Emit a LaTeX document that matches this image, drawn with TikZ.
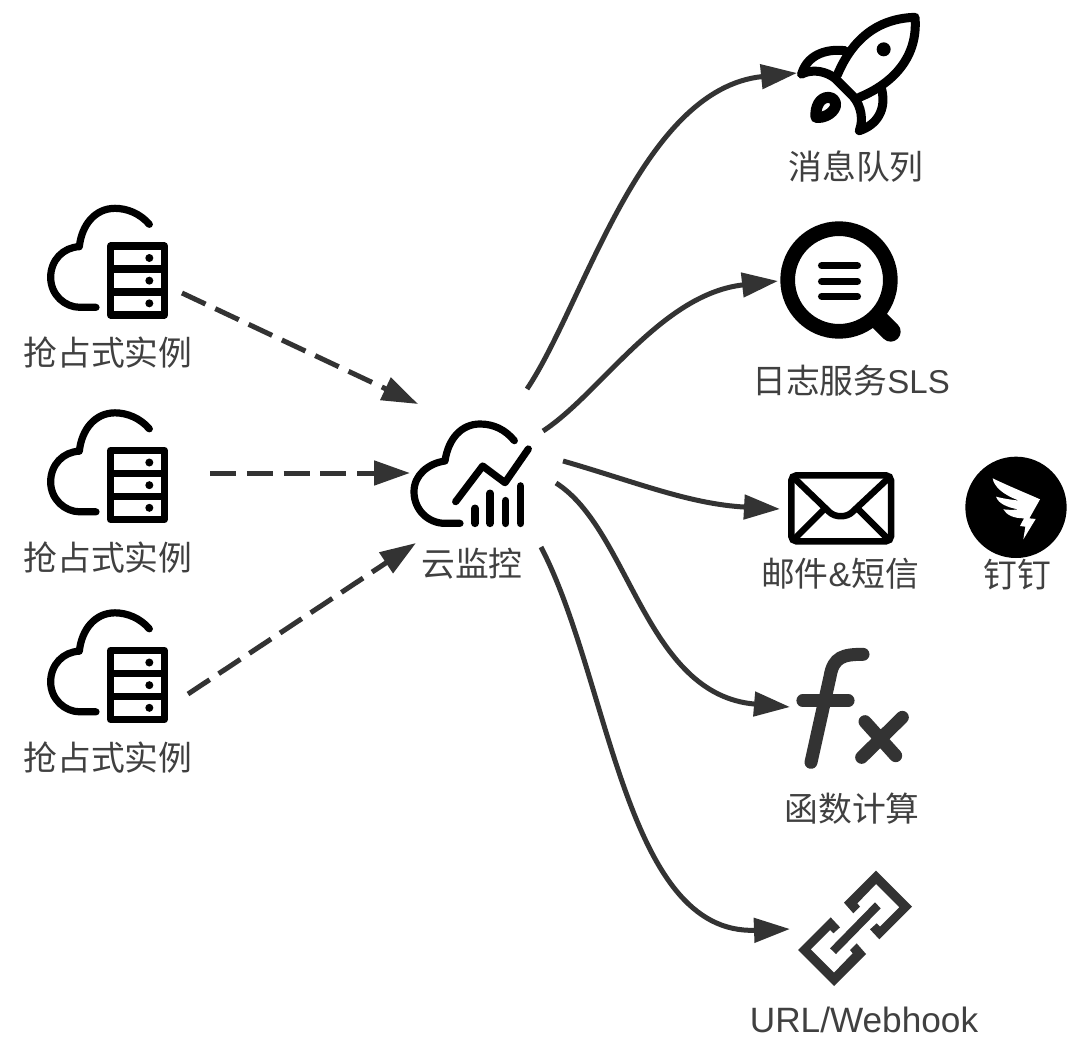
\documentclass[tikz,border=0pt]{standalone}
\usepackage{fontspec}
\setmainfont{Liberation Sans}
\newfontfamily\cjk{Noto Sans CJK SC}
\usetikzlibrary{arrows.meta}
\definecolor{ink}{HTML}{333333}
\definecolor{lab}{HTML}{404040}
\definecolor{fxc}{HTML}{333333}
\tikzset{
  zm/.style={x=0.33333pt,y=-0.33333pt},
  lbl/.style={text=lab,font=\fontsize{33.8}{36}\selectfont\cjk,inner sep=0pt,anchor=center},
  latin/.style={text=lab,font=\fontsize{35.2}{38}\selectfont,inner sep=0pt,anchor=center},
  dashconn/.style={draw=ink,line width=5pt,dash pattern=on 26pt off 10.8pt,-{Triangle[length=36pt,width=24pt]}},
  conn/.style={draw=ink,line width=5pt,-{Triangle[length=36pt,width=24pt]}},
  ic/.style={draw=black,line width=7.2pt,line cap=round,line join=round},
  servercloud/.pic={
    \begin{scope}[shift={(20,190)},zm]
      \draw[ic] (388,103) .. controls (360,70) and (320,55) .. (285,55) .. controls (225,55) and (185,105) .. (178,170) .. controls (130,172) and (92,210) .. (92,262) .. controls (92,315) and (135,352) .. (180,352) -- (228,352);
      \draw[ic] (272,168) rectangle (433,375);
      \draw[ic,line cap=butt] (272,237) -- (433,237) (272,306) -- (433,306);
      \fill (388,204) circle (12) (388,272) circle (12) (388,340) circle (12);
    \end{scope}
  }
}
\begin{document}
\begin{tikzpicture}[x=1pt,y=-1pt]
\useasboundingbox (0,0) rectangle (1084,1054);
\fill[white] (0,0) rectangle (1084,1054);

% left icons
\pic at (0,0) {servercloud};
\pic at (0,204.5) {servercloud};
\pic at (0,404.5) {servercloud};
\node[lbl] (spotA) at (108,353) {抢占式实例};
\node[lbl] (spotB) at (108,558) {抢占式实例};
\node[lbl] (spotC) at (108,758) {抢占式实例};

% monitor
\begin{scope}[shift={(400,380)},zm]
  \draw[ic] (343,182) .. controls (315,148) and (280,132) .. (240,132) .. controls (185,132) and (145,175) .. (135,243) .. controls (85,250) and (42,285) .. (42,335) .. controls (42,390) and (85,430) .. (135,430) -- (180,430);
  \draw[ic] (167,365) -- (248,258) -- (315,308) -- (385,207);
  \draw[ic,line width=7.6pt] (225,385) -- (225,430) (270,340) -- (270,430) (317,362) -- (317,430) (362,318) -- (362,430);
\end{scope}
\node[lbl] (mon) at (472,564) {云监控};

% rocket
\begin{scope}[shift={(780,0)},zm]
  \draw[ic,line width=9pt] (405,52) .. controls (300,55) and (220,110) .. (172,225) (405,52) .. controls (415,170) and (340,250) .. (238,292);
  \draw[ic,line width=9pt] (65,222) .. controls (100,205) and (140,215) .. (165,235) -- (220,290) .. controls (245,320) and (250,360) .. (238,392) .. controls (290,375) and (320,330) .. (305,268);
  \draw[ic,line width=9pt] (65,222) .. controls (80,170) and (130,145) .. (195,152);
  \draw[ic,line width=11pt] (108,352) .. controls (105,320) and (120,292) .. (145,292) .. controls (160,292) and (170,305) .. (166,320) .. controls (158,342) and (130,355) .. (108,352) -- cycle;
  \fill (311,148) circle (21);
\end{scope}
\node[lbl] (mq) at (856,167) {消息队列};

% log service
\begin{scope}[shift={(770,220)},zm]
  \draw[line width=14.7pt] (207,180) circle (154);
  \draw[line width=20pt,line cap=round] (325,298) -- (362,335);
  \draw[line width=7.4pt,line cap=round] (155,137) -- (262,137) (155,184) -- (262,184) (155,229) -- (262,229);
\end{scope}
\node[lbl,font=\fontsize{33.8}{36}\selectfont\cjk] (sls) at (851,381) {日志服务{\fontsize{33}{36}\rmfamily SLS}};

% mail
\begin{scope}[shift={(770,450)},zm]
  \draw[line width=6.5pt,rounded corners=5pt] (64,76) rectangle (363,274);
  \draw[line width=6.5pt,line join=round] (70,82) -- (178,186) .. controls (195,203) and (230,203) .. (247,186) -- (358,82);
  \draw[line width=6.5pt] (76,264) -- (165,175) (351,264) -- (262,175);
\end{scope}
\node[lbl] (mail) at (840,574) {邮件{\rmfamily\&}短信};

% dingtalk
\begin{scope}[shift={(770,450)},zm]
  \fill (738,172) circle (152);
  \fill[white] (668,85) .. controls (720,110) and (770,130) .. (810,148) -- (778,205) -- (797,207) -- (760,268) -- (766,230) -- (750,228) -- (762,205) .. controls (730,205) and (710,195) .. (700,178) .. controls (715,180) and (735,180) .. (745,178) .. controls (710,172) and (685,160) .. (678,140) .. controls (700,146) and (730,150) .. (748,152) .. controls (700,135) and (672,110) .. (668,85) -- cycle;
\end{scope}
\node[lbl] (ding) at (1017,575) {钉钉};

% fx
\begin{scope}[shift={(780,640)},zm]
  \draw[draw=fxc,line width=13pt,line cap=round] (249,43) .. controls (190,43) and (160,50) .. (150,110) -- (93,367);
  \draw[draw=fxc,line width=12.5pt,line cap=round] (68,182) -- (205,182);
  \draw[draw=fxc,line width=13pt,line cap=round] (255,245) -- (347,347) (367,232) -- (245,352);
\end{scope}
\node[lbl] (fc) at (852,809) {函数计算};

% link
\begin{scope}[shift={(780,860)},zm]
  \fill[fxc] (192,128) -- (288,32) -- (396,140) -- (298,238) -- (270,208) -- (290,190) -- (300,200) -- (358,142) -- (288,72) -- (232,130) -- (240,140) -- (220,160) -- cycle;
  \fill[fxc] (258,282) -- (162,378) -- (54,270) -- (152,172) -- (180,202) -- (160,220) -- (150,210) -- (92,268) -- (162,338) -- (218,280) -- (210,270) -- (230,250) -- cycle;
  \fill[fxc] (285,127) -- (302,145) -- (168,282) -- (150,265) -- cycle;
\end{scope}
\node[latin] (url) at (864,1020) {URL/Webhook};

% connector ends
\coordinate (d1s) at (182,293);
\coordinate (d1e) at (418,404);
\coordinate (d2s) at (210,473);
\coordinate (d2e) at (410,473);
\coordinate (d3s) at (188,694);
\coordinate (d3e) at (416,543);
\coordinate (a1) at (527,389);
\coordinate (a2) at (797,73);
\coordinate (b1) at (543,431);
\coordinate (b2) at (778,281);
\coordinate (c1) at (563,461);
\coordinate (c2) at (780,509);
\coordinate (e1) at (556,483);
\coordinate (e2) at (790,707);
\coordinate (f1) at (541,547);
\coordinate (f2) at (790,929);

\draw[dashconn] (d1s) -- (d1e);
\draw[dashconn] (d2s) -- (d2e);
\draw[dashconn] (d3s) -- (d3e);
\draw[conn] (a1) .. controls (584,304) and (641,89) .. (a2);
\draw[conn] (b1) .. controls (600,394) and (661,294) .. (b2);
\draw[conn] (c1) .. controls (636,482) and (689,504) .. (c2);
\draw[conn] (e1) .. controls (630,530) and (645,695) .. (e2);
\draw[conn] (f1) .. controls (610,680) and (625,935) .. (f2);
\end{tikzpicture}
\end{document}
